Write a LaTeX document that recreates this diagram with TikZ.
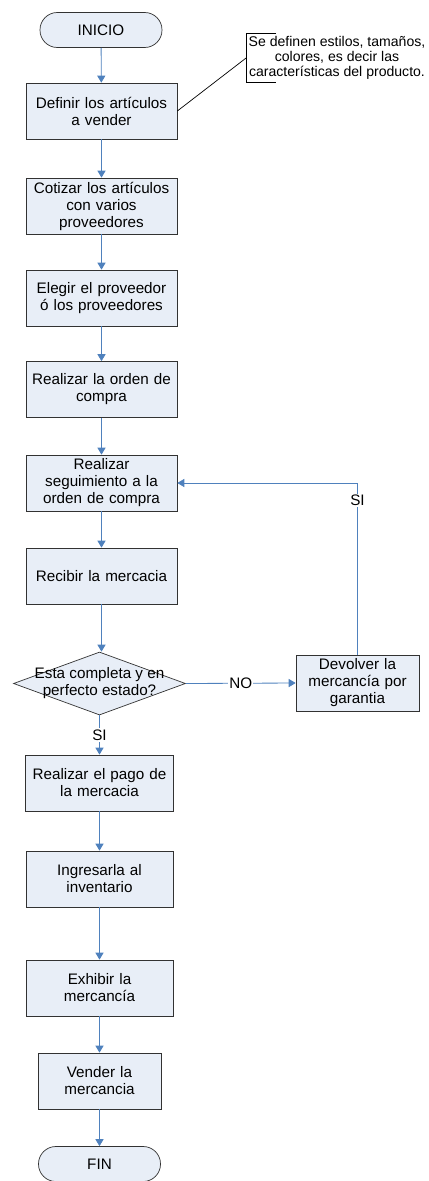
\documentclass[tikz,border=0pt]{standalone}
\usepackage{fontspec}
\setmainfont{Liberation Sans}
\usepackage{tikz}
\usetikzlibrary{arrows.meta,shapes.geometric}

\definecolor{cajafondo}{RGB}{232,238,247}
\definecolor{flechaazul}{RGB}{79,129,189}
\definecolor{borde}{RGB}{50,50,50}

\tikzset{
  caja/.style={draw=borde, line width=0.6pt, fill=cajafondo, minimum width=4.53cm,
    minimum height=1.68cm, text width=4.2cm, align=center, inner sep=1pt},
  terminal/.style={draw=borde, line width=0.6pt, fill=cajafondo, rounded corners=0.52cm,
    minimum width=3.66cm, minimum height=1.05cm},
  decision/.style={draw=borde, line width=0.6pt, fill=cajafondo, diamond, inner sep=0pt,
    minimum width=5.16cm, minimum height=1.89cm},
  flecha/.style={draw=flechaazul, line width=0.7pt, -{Triangle[width=7pt,length=6pt]}},
  etiqueta/.style={fill=white, inner sep=1pt}
}

\begin{document}
\begin{tikzpicture}[x=0.03cm, y=-0.03cm, font=\fontsize{13}{14.5}\selectfont]

            \useasboundingbox (0,0) rectangle (429,1181);

            % flujo principal
            \node[terminal] (inicio) at (101,30) {INICIO};
            \node[caja] (definir) at (101.5,111) {Definir los art\'iculos\\a vender};
            \node[caja] (cotizar) at (101.5,206) {Cotizar los art\'iculos\\con varios\\proveedores};
            \node[caja] (elegir) at (101.5,298) {Elegir el proveedor\\\'o los proveedores};
            \node[caja] (orden) at (101.5,389.5) {Realizar la orden de\\compra};
            \node[caja] (seguimiento) at (101.5,483) {Realizar\\seguimiento a la\\orden de compra};
            \node[caja] (recibir) at (101.5,576) {Recibir la mercacia};
            \node[decision, label={[align=center, inner sep=0pt]center:Esta completa y en\\perfecto estado?}]
              (revision) at (99.5,683.5) {};
            \node[caja, minimum width=3.69cm, text width=3.4cm] (devolver) at (357.5,683)
              {Devolver la\\mercanc\'ia por\\garantia};
            \node[caja, minimum width=4.44cm] (pago) at (99.5,783) {Realizar el pago de\\la mercacia};
            \node[caja, minimum width=4.41cm] (inventario) at (99.5,879) {Ingresarla al\\inventario};
            \node[caja, minimum width=4.41cm] (exhibir) at (99.5,988) {Exhibir la\\mercanc\'ia};
            \node[caja, minimum width=3.69cm, text width=3.4cm] (vender) at (99.5,1081) {Vender la\\mercancia};
            \node[terminal] (fin) at (99.5,1164) {FIN};

            % nota
            \node[align=center, inner sep=2pt, font=\fontsize{12}{13}\selectfont] (nota) at (337,58)
              {Se definen estilos, tama\~nos,\\colores, es decir las\\caracter\'isticas del producto.};
            \draw[line width=0.6pt] (nota.north west) ++(30,0) -- (nota.north west) -- (nota.south west) -- ++(30,0);
            \draw[line width=0.6pt] (definir.east) -- (nota.west);

            % conectores
            \draw[flecha] (inicio) -- (definir);
            \draw[flecha] (definir) -- (cotizar);
            \draw[flecha] (cotizar) -- (elegir);
            \draw[flecha] (elegir) -- (orden);
            \draw[flecha] (orden) -- (seguimiento);
            \draw[flecha] (seguimiento) -- (recibir);
            \draw[flecha] (recibir) -- (recibir.south |- revision.north);
            \draw[flecha] (revision.east) -- node[etiqueta] {NO} (devolver.west);
            \draw[flecha] (devolver.north) |- node[etiqueta, pos=0.45] {SI} (seguimiento.east);
            \draw[flecha] (revision.south) -- node[etiqueta] {SI} (pago.north);
            \draw[flecha] (pago) -- (inventario);
            \draw[flecha] (inventario) -- (exhibir);
            \draw[flecha] (exhibir) -- (vender);
            \draw[flecha] (vender) -- (fin);

\end{tikzpicture}
\end{document}
